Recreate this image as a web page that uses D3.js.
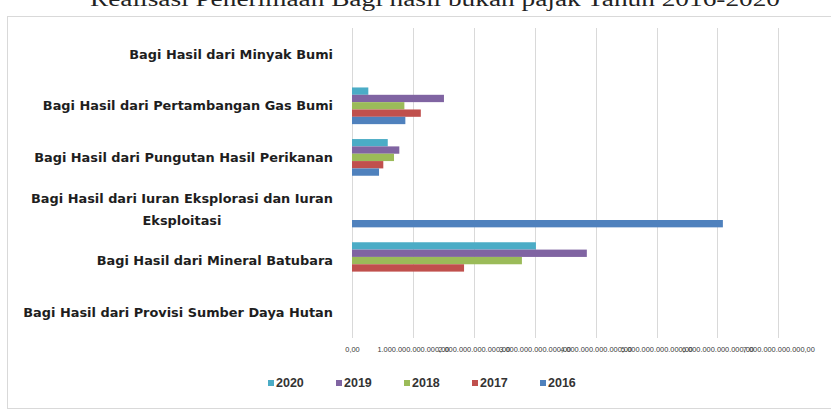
<!DOCTYPE html>
<html>
<head>
<meta charset="utf-8">
<script src="https://cdn.jsdelivr.net/npm/d3@7"></script>
<style>
  html, body { margin: 0; padding: 0; background: #fff; }
  svg { display: block; }
</style>
</head>
<body>
<svg id="chart" width="831" height="410"></svg>
<script>
// Realisasi penerimaan bagi hasil bukan pajak per jenis, 2016-2020 (Rupiah)
const categories = [
  "Bagi Hasil dari Minyak Bumi",
  "Bagi Hasil dari Pertambangan Gas Bumi",
  "Bagi Hasil dari Pungutan Hasil Perikanan",
  "Bagi Hasil dari Iuran Eksplorasi dan Iuran Eksploitasi",
  "Bagi Hasil dari Mineral Batubara",
  "Bagi Hasil dari Provisi Sumber Daya Hutan"
];
const years = ["2020", "2019", "2018", "2017", "2016"];
const values2020 = [0, 0.268e12, 0.587e12, 0, 3.02e12, 0];
const values2019 = [0, 1.51e12, 0.777e12, 0, 3.856e12, 0];
const values2018 = [0, 0.86e12, 0.69e12, 0, 2.79e12, 0];
const values2017 = [0, 1.13e12, 0.514e12, 0, 1.84e12, 0];
const values2016 = [0, 0.876e12, 0.444e12, 6.09e12, 0, 0];
const tickValues = [0, 1e12, 2e12, 3e12, 4e12, 5e12, 6e12, 7e12];
const tickLabels = ["0,00", "1.000.000.000.000,00", "2.000.000.000.000,00", "3.000.000.000.000,00",
  "4.000.000.000.000,00", "5.000.000.000.000,00", "6.000.000.000.000,00", "7.000.000.000.000,00"];
const colors = ["#4bacc6", "#8064a2", "#9bbb59", "#c0504d", "#4f81bd"];
const title = "Realisasi Penerimaan Bagi hasil bukan pajak  Tahun 2016-2020";

const seriesValues = [values2020, values2019, values2018, values2017, values2016];

const svg = d3.select("#chart");

// outer chart frame
svg.append("rect")
  .attr("x", 7.5).attr("y", 16.5)
  .attr("width", 900).attr("height", 392)
  .attr("fill", "#fff").attr("stroke", "#d9d9d9").attr("stroke-width", 1);

// title, set above the frame
svg.append("text")
  .attr("x", 435).attr("y", 6)
  .attr("text-anchor", "middle")
  .attr("font-family", "'Liberation Serif', 'DejaVu Serif', serif")
  .attr("font-size", 20)
  .attr("fill", "#222")
  .attr("textLength", 690)
  .attr("lengthAdjust", "spacingAndGlyphs")
  .text(title);

const x = d3.scaleLinear().domain([0, 7e12]).range([352, 778.3]);
const y = d3.scaleBand().domain(categories).range([28.4, 338]).paddingInner(0.289).paddingOuter(0.1445);
const ySub = d3.scaleBand().domain(years).range([0, y.bandwidth()]);

// vertical gridlines
svg.append("g")
  .selectAll("line")
  .data(tickValues)
  .join("line")
  .attr("x1", d => Math.round(x(d)) + 0.5)
  .attr("x2", d => Math.round(x(d)) + 0.5)
  .attr("y1", 28).attr("y2", 338)
  .attr("stroke", "#d9d9d9").attr("stroke-width", 1);

// value axis labels
const xAxis = d3.axisBottom(x)
  .tickValues(tickValues)
  .tickFormat((d, i) => tickLabels[i])
  .tickSize(0).tickPadding(0);
const axisG = svg.append("g")
  .attr("transform", "translate(0,346)")
  .call(xAxis);
axisG.select(".domain").remove();
axisG.selectAll("text")
  .attr("font-family", "'Liberation Sans', Arial, sans-serif")
  .attr("font-size", 7.4)
  .attr("fill", "#3a3a3a")
  .attr("dy", "0.35em")
  .attr("y", 3);

// bars
const groups = svg.append("g")
  .selectAll("g")
  .data(years)
  .join("g")
  .attr("fill", (d, i) => colors[i]);

groups.selectAll("rect")
  .data((yr, si) => categories.map((c, ci) => ({ cat: c, year: yr, value: seriesValues[si][ci] })))
  .join("rect")
  .attr("x", x(0))
  .attr("y", d => y(d.cat) + ySub(d.year))
  .attr("width", d => x(d.value) - x(0))
  .attr("height", ySub.bandwidth());

// category labels
const labelLines = {
  "Bagi Hasil dari Iuran Eksplorasi dan Iuran Eksploitasi": ["Bagi Hasil dari Iuran Eksplorasi dan Iuran", "Eksploitasi"]
};
const catG = svg.append("g")
  .attr("font-family", "'DejaVu Sans', sans-serif")
  .attr("font-weight", "bold")
  .attr("font-size", 12.9)
  .attr("fill", "#1e1e1e");

categories.forEach(c => {
  const cy = y(c) + y.bandwidth() / 2;
  const lines = labelLines[c];
  if (lines) {
    const t = catG.append("text").attr("text-anchor", "middle");
    const probe = catG.append("text").text(lines[0]);
    const w = probe.node().getComputedTextLength();
    probe.remove();
    const cx = 333 - w / 2;
    t.selectAll("tspan")
      .data(lines)
      .join("tspan")
      .attr("x", cx)
      .attr("y", (d, i) => cy + (i - 0.5) * 22)
      .attr("dy", "0.35em")
      .text(d => d);
  } else {
    catG.append("text")
      .attr("x", 333)
      .attr("y", cy)
      .attr("dy", "0.35em")
      .attr("text-anchor", "end")
      .text(c);
  }
});

// legend
const legend = svg.append("g")
  .attr("transform", "translate(268,383)");
const item = legend.selectAll("g")
  .data(years)
  .join("g")
  .attr("transform", (d, i) => `translate(${i * 68},0)`);
item.append("rect")
  .attr("x", 0).attr("y", -3)
  .attr("width", 6).attr("height", 6)
  .attr("fill", (d, i) => colors[i]);
item.append("text")
  .attr("x", 8).attr("y", 0)
  .attr("dy", "0.35em")
  .attr("font-family", "'Liberation Sans Narrow', 'Liberation Sans', sans-serif")
  .attr("font-weight", "bold")
  .attr("font-size", 12.5)
  .attr("fill", "#333")
  .text(d => d);
</script>
</body>
</html>
